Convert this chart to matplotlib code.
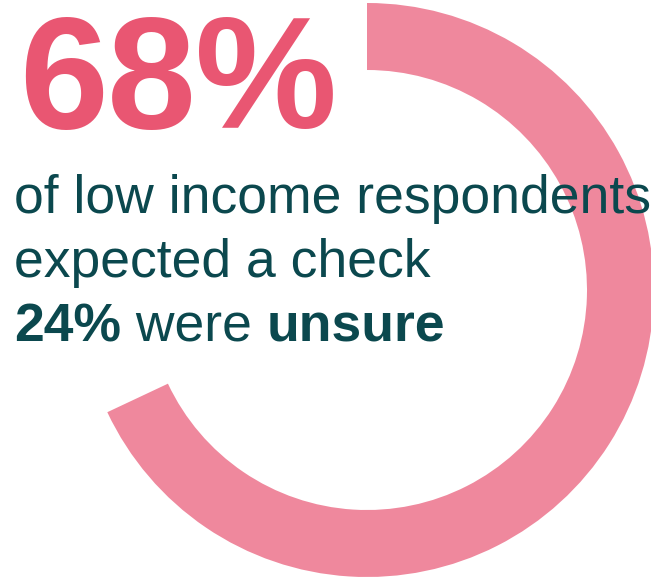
import matplotlib
matplotlib.use("Agg")
import matplotlib.pyplot as plt

# share of low income respondents who expected a check
share_expected = 68
share_unsure = 24

headline = f"{share_expected}%"
line_1 = "of low income respondents"
line_2 = "expected a check"
line_3 = [(f"{share_unsure}%", "bold"), (" were ", "normal"), ("unsure", "bold")]

ring_color = "#EF889D"
headline_color = "#E95672"
text_color = "#0B484E"

W, H = 651, 577
fig = plt.figure(figsize=(W / 100, H / 100), dpi=100)
ax = fig.add_axes([0, 0, 1, 1])

# ring drawn clockwise from 12 o'clock
ax.pie([share_expected, 100 - share_expected],
       colors=[ring_color, "none"],
       startangle=90, counterclock=False,
       center=(367, H - 290), radius=287,
       wedgeprops=dict(width=67, linewidth=0), frame=False)
ax.set_xlim(0, W)
ax.set_ylim(0, H)
ax.set_aspect("equal")
ax.axis("off")

font = ["Liberation Sans", "DejaVu Sans"]
fig.canvas.draw()
renderer = fig.canvas.get_renderer()

# big headline, set a little tighter than the font's default spacing
x = 19
for ch in headline:
    t = ax.text(x, H - 128, ch, family=font, fontsize=115, fontweight="bold",
                color=headline_color, va="baseline", ha="left")
    x += t.get_window_extent(renderer).width - 1

ax.text(14, H - 213, line_1, family=font, fontsize=38.5,
        color=text_color, va="baseline", ha="left")
ax.text(14, H - 277, line_2, family=font, fontsize=38.5,
        color=text_color, va="baseline", ha="left")

# mixed-weight last line, pieces placed one after another
x = 14
for piece, weight in line_3:
    t = ax.text(x, H - 342, piece, family=font, fontsize=38.5, fontweight=weight,
                color=text_color, va="baseline", ha="left")
    x += t.get_window_extent(renderer).width

fig.savefig("out.png", dpi=100)
